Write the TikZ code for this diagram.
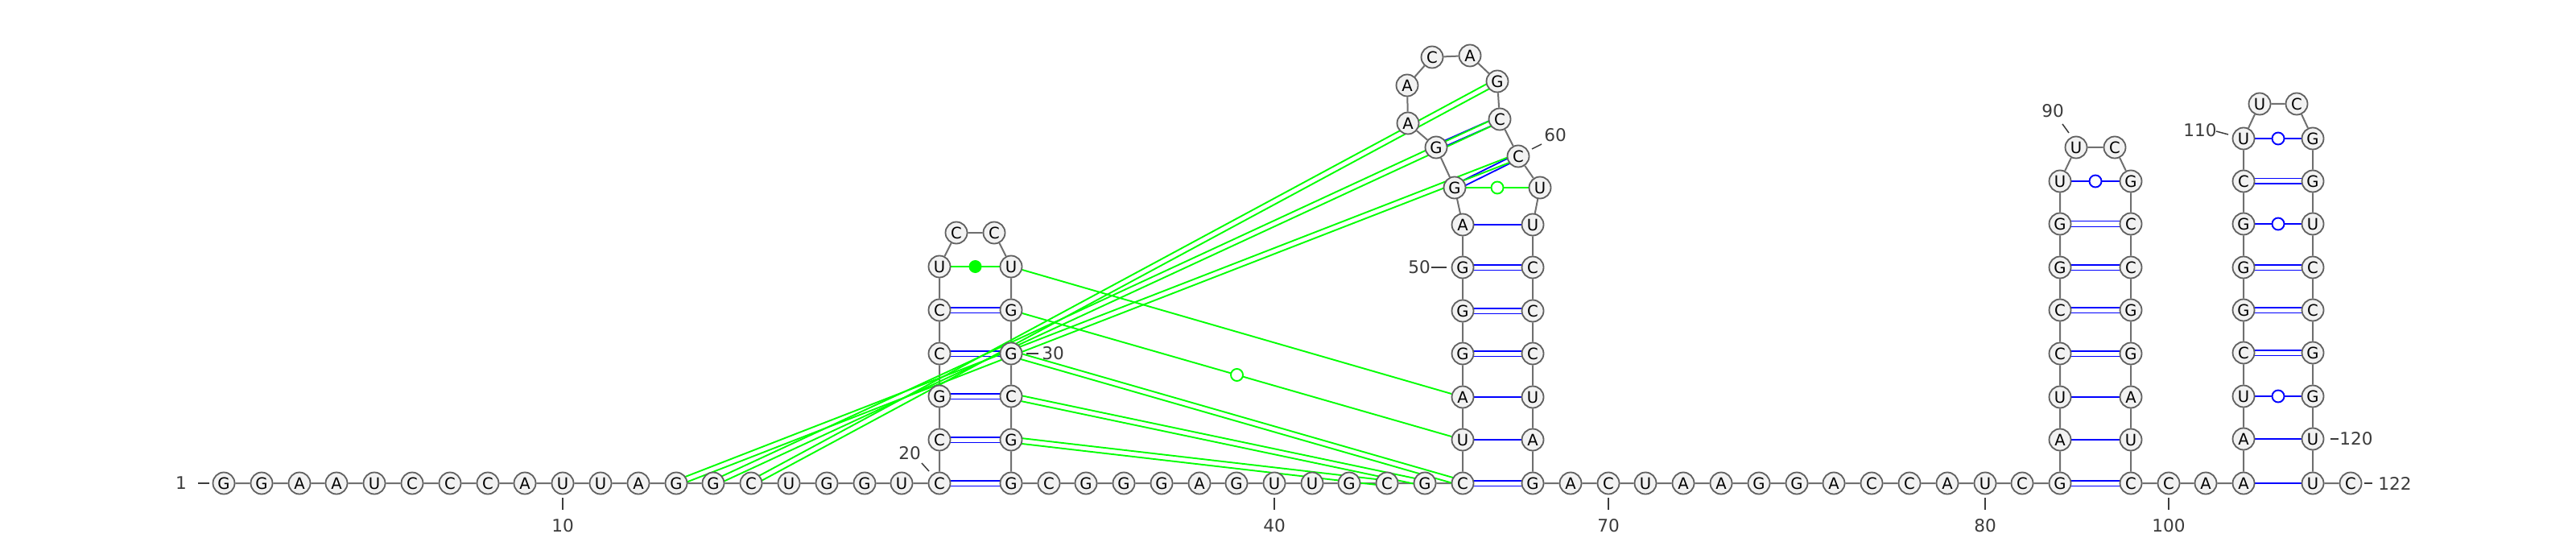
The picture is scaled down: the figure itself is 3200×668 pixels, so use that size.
\documentclass[tikz,border=0pt]{standalone}
\usepackage{fontspec}
\setmainfont{DejaVu Sans}
\usepackage{tikz}
\usetikzlibrary{calc, backgrounds}

\definecolor{ntfill}{RGB}{242,242,242}
\definecolor{ntdraw}{RGB}{96,96,96}
\definecolor{bbone}{RGB}{112,112,112}
\definecolor{numtxt}{RGB}{60,60,60}
\definecolor{pairblue}{RGB}{0,0,255}
\definecolor{pairgreen}{RGB}{0,255,0}

% two parallel strokes between the centres of two bases
\newcommand{\dbl}[3]{%
  \draw[#1] ($(#2.center)!1.7pt!90:(#3.center)$) -- ($(#3.center)!1.7pt!-90:(#2.center)$);
  \draw[#1] ($(#2.center)!1.7pt!-90:(#3.center)$) -- ($(#3.center)!1.7pt!90:(#2.center)$);}

\begin{document}
\begin{tikzpicture}[x=0.5pt, y=-0.5pt,
        nt/.style={circle, draw=ntdraw, fill=ntfill, line width=0.9pt, minimum size=13.5pt, inner sep=0pt, font=\fontsize{9.8}{9.8}\selectfont},
        bb/.style={draw=bbone, line width=1pt},
        bp/.style={draw=pairblue, line width=0.9pt},
        gp/.style={draw=pairgreen, line width=0.95pt},
        bwob/.style={circle, draw=pairblue, fill=white, line width=0.95pt, minimum size=7.5pt, inner sep=0pt},
        gwob/.style={circle, draw=pairgreen, fill=white, line width=0.95pt, minimum size=7.5pt, inner sep=0pt},
        gdot/.style={circle, fill=pairgreen, minimum size=8pt, inner sep=0pt},
        num/.style={text=numtxt, font=\fontsize{10.8}{10.8}\selectfont, inner sep=0pt},
        tick/.style={draw=numtxt, line width=0.75pt},
    ]
    \useasboundingbox (0,0) rectangle (3200,668);

    % 5' strand
    \node[nt] (n1) at (278,600) {G}; \node[nt] (n2) at (325,600) {G}; \node[nt] (n3) at (372,600) {A};
    \node[nt] (n4) at (418,600) {A}; \node[nt] (n5) at (465,600) {U}; \node[nt] (n6) at (512,600) {C};
    \node[nt] (n7) at (559,600) {C}; \node[nt] (n8) at (606,600) {C}; \node[nt] (n9) at (652,600) {A};
    \node[nt] (n10) at (699,600) {U}; \node[nt] (n11) at (746,600) {U}; \node[nt] (n12) at (793,600) {A};
    \node[nt] (n13) at (840,600) {G}; \node[nt] (n14) at (886,600) {G}; \node[nt] (n15) at (933,600) {C};
    \node[nt] (n16) at (980,600) {U}; \node[nt] (n17) at (1027,600) {G}; \node[nt] (n18) at (1074,600) {G};
    \node[nt] (n19) at (1120,600) {U};

    % Hairpin 1
    \node[nt] (n20) at (1167,600) {C}; \node[nt] (n21) at (1167,546) {C}; \node[nt] (n22) at (1167,492) {G};
    \node[nt] (n23) at (1167,439) {C}; \node[nt] (n24) at (1167,385) {C}; \node[nt] (n25) at (1167,331) {U};
    \node[nt] (n26) at (1188,289) {C}; \node[nt] (n27) at (1235,289) {C};
    \node[nt] (n28) at (1256,331) {U}; \node[nt] (n29) at (1256,385) {G}; \node[nt] (n30) at (1256,439) {G};
    \node[nt] (n31) at (1256,492) {C}; \node[nt] (n32) at (1256,546) {G}; \node[nt] (n33) at (1256,600) {G};

    % Linker
    \node[nt] (n34) at (1303,600) {C}; \node[nt] (n35) at (1349,600) {G}; \node[nt] (n36) at (1396,600) {G};
    \node[nt] (n37) at (1443,600) {G}; \node[nt] (n38) at (1490,600) {A}; \node[nt] (n39) at (1536,600) {G};
    \node[nt] (n40) at (1583,600) {U}; \node[nt] (n41) at (1630,600) {U}; \node[nt] (n42) at (1676,600) {G};
    \node[nt] (n43) at (1723,600) {C}; \node[nt] (n44) at (1770,600) {G};

    % Hairpin 2
    \node[nt] (n45) at (1817,600) {C}; \node[nt] (n46) at (1817,546) {U}; \node[nt] (n47) at (1817,493) {A};
    \node[nt] (n48) at (1817,439) {G}; \node[nt] (n49) at (1817,386) {G}; \node[nt] (n50) at (1817,332) {G};
    \node[nt] (n51) at (1817,279) {A}; \node[nt] (n52) at (1807,233) {G}; \node[nt] (n53) at (1784,183) {G};
    \node[nt] (n54) at (1749,153) {A}; \node[nt] (n55) at (1748,106) {A}; \node[nt] (n56) at (1779,71) {C};
    \node[nt] (n57) at (1826,69) {A}; \node[nt] (n58) at (1860,101) {G}; \node[nt] (n59) at (1863,148) {C};
    \node[nt] (n60) at (1886,194) {C}; \node[nt] (n61) at (1913,233) {U}; \node[nt] (n62) at (1904,279) {U};
    \node[nt] (n63) at (1904,332) {C}; \node[nt] (n64) at (1904,386) {C}; \node[nt] (n65) at (1904,439) {C};
    \node[nt] (n66) at (1904,493) {U}; \node[nt] (n67) at (1904,546) {A}; \node[nt] (n68) at (1904,600) {G};

    % Linker
    \node[nt] (n69) at (1951,600) {A}; \node[nt] (n70) at (1998,600) {C}; \node[nt] (n71) at (2044,600) {U};
    \node[nt] (n72) at (2091,600) {A}; \node[nt] (n73) at (2138,600) {A}; \node[nt] (n74) at (2185,600) {G};
    \node[nt] (n75) at (2232,600) {G}; \node[nt] (n76) at (2278,600) {A}; \node[nt] (n77) at (2325,600) {C};
    \node[nt] (n78) at (2372,600) {C}; \node[nt] (n79) at (2419,600) {A}; \node[nt] (n80) at (2466,600) {U};
    \node[nt] (n81) at (2512,600) {C};

    % Hairpin 3
    \node[nt] (n82) at (2559,600) {G}; \node[nt] (n83) at (2559,546) {A}; \node[nt] (n84) at (2559,493) {U};
    \node[nt] (n85) at (2559,439) {C}; \node[nt] (n86) at (2559,385) {C}; \node[nt] (n87) at (2559,332) {G};
    \node[nt] (n88) at (2559,278) {G}; \node[nt] (n89) at (2559,225) {U};
    \node[nt] (n90) at (2579,183) {U}; \node[nt] (n91) at (2627,183) {C};
    \node[nt] (n92) at (2647,225) {G}; \node[nt] (n93) at (2647,278) {C}; \node[nt] (n94) at (2647,332) {C};
    \node[nt] (n95) at (2647,385) {G}; \node[nt] (n96) at (2647,439) {G}; \node[nt] (n97) at (2647,493) {A};
    \node[nt] (n98) at (2647,546) {U}; \node[nt] (n99) at (2647,600) {C};
    \node[nt] (n100) at (2694,600) {C}; \node[nt] (n101) at (2740,600) {A};

    % Hairpin 4
    \node[nt] (n102) at (2787,600) {A}; \node[nt] (n103) at (2787,545) {A}; \node[nt] (n104) at (2787,492) {U};
    \node[nt] (n105) at (2787,438) {C}; \node[nt] (n106) at (2787,385) {G}; \node[nt] (n107) at (2787,332) {G};
    \node[nt] (n108) at (2787,278) {G}; \node[nt] (n109) at (2787,225) {C}; \node[nt] (n110) at (2787,172) {U};
    \node[nt] (n111) at (2807,129) {U}; \node[nt] (n112) at (2853,129) {C};
    \node[nt] (n113) at (2873,172) {G}; \node[nt] (n114) at (2873,225) {G}; \node[nt] (n115) at (2873,278) {U};
    \node[nt] (n116) at (2873,332) {C}; \node[nt] (n117) at (2873,385) {C}; \node[nt] (n118) at (2873,438) {G};
    \node[nt] (n119) at (2873,492) {G}; \node[nt] (n120) at (2873,545) {U}; \node[nt] (n121) at (2873,600) {U};
    \node[nt] (n122) at (2920,600) {C};

    \begin{pgfonlayer}{background}
        \fill[white] (0,0) rectangle (3200,668);
        % backbone
        \draw[bb] (n1) -- (n2) -- (n3) -- (n4) -- (n5) -- (n6) -- (n7) -- (n8) -- (n9) -- (n10)
            -- (n11) -- (n12) -- (n13) -- (n14) -- (n15) -- (n16) -- (n17) -- (n18) -- (n19) -- (n20)
            -- (n21) -- (n22) -- (n23) -- (n24) -- (n25) -- (n26) -- (n27) -- (n28) -- (n29) -- (n30)
            -- (n31) -- (n32) -- (n33) -- (n34) -- (n35) -- (n36) -- (n37) -- (n38) -- (n39) -- (n40)
            -- (n41) -- (n42) -- (n43) -- (n44) -- (n45) -- (n46) -- (n47) -- (n48) -- (n49) -- (n50)
            -- (n51) -- (n52) -- (n53) -- (n54) -- (n55) -- (n56) -- (n57) -- (n58) -- (n59) -- (n60)
            -- (n61) -- (n62) -- (n63) -- (n64) -- (n65) -- (n66) -- (n67) -- (n68) -- (n69) -- (n70)
            -- (n71) -- (n72) -- (n73) -- (n74) -- (n75) -- (n76) -- (n77) -- (n78) -- (n79) -- (n80)
            -- (n81) -- (n82) -- (n83) -- (n84) -- (n85) -- (n86) -- (n87) -- (n88) -- (n89) -- (n90)
            -- (n91) -- (n92) -- (n93) -- (n94) -- (n95) -- (n96) -- (n97) -- (n98) -- (n99) -- (n100)
            -- (n101) -- (n102) -- (n103) -- (n104) -- (n105) -- (n106) -- (n107) -- (n108) -- (n109) -- (n110)
            -- (n111) -- (n112) -- (n113) -- (n114) -- (n115) -- (n116) -- (n117) -- (n118) -- (n119) -- (n120)
            -- (n121) -- (n122);

        % stem pairs
        \dbl{bp}{n20}{n33} \dbl{bp}{n21}{n32} \dbl{bp}{n22}{n31} \dbl{bp}{n23}{n30} \dbl{bp}{n24}{n29}
        \dbl{bp}{n45}{n68} \dbl{bp}{n48}{n65} \dbl{bp}{n49}{n64} \dbl{bp}{n50}{n63}
        \dbl{bp}{n52}{n60} \dbl{bp}{n53}{n59}
        \draw[bp] (n46) -- (n67); \draw[bp] (n47) -- (n66); \draw[bp] (n51) -- (n62);
        \dbl{bp}{n82}{n99} \dbl{bp}{n85}{n96} \dbl{bp}{n86}{n95} \dbl{bp}{n87}{n94} \dbl{bp}{n88}{n93}
        \draw[bp] (n83) -- (n98); \draw[bp] (n84) -- (n97);
        \draw[bp] (n89) -- node[bwob] (w89) {} (n92);
        \dbl{bp}{n105}{n118} \dbl{bp}{n106}{n117} \dbl{bp}{n107}{n116} \dbl{bp}{n109}{n114}
        \draw[bp] (n102) -- (n121); \draw[bp] (n103) -- (n120);
        \draw[bp] (n104) -- node[bwob] (w104) {} (n119);
        \draw[bp] (n108) -- node[bwob] (w108) {} (n115);
        \draw[bp] (n110) -- node[bwob] (w110) {} (n113);

        % tertiary pairs
        \draw[gp] (n25) -- node[gdot] (d25) {} (n28);
        \draw[gp] (n52) -- node[gwob] (w52) {} (n61);
        \dbl{gp}{n13}{n60} \dbl{gp}{n14}{n59} \dbl{gp}{n15}{n58}
        \dbl{gp}{n30}{n45} \dbl{gp}{n31}{n44} \dbl{gp}{n32}{n43}
        \draw[gp] (n28) -- (n47);
        \draw[gp] (n29) -- node[gwob] (w29) {} (n46);
    \end{pgfonlayer}

    % numbering
    \node[num] (l1) at (225,600) {1};     \draw[tick] ($(n1)+(-18,0)$) -- ++(-14,0);
    \node[num] (l10) at (699,653) {10};   \draw[tick] ($(n10)+(0,18)$) -- ++(0,15);
    \node[num] (l20) at (1130,563) {20};  \draw[tick] ($(n20)+(-13,-15)$) -- ++(-9,-10);
    \node[num] (l30) at (1308,439) {30};  \draw[tick] ($(n30)+(19,0)$) -- ++(15,0);
    \node[num] (l40) at (1583,653) {40};  \draw[tick] ($(n40)+(0,18)$) -- ++(0,15);
    \node[num] (l50) at (1763,332) {50};  \draw[tick] ($(n50)+(-20,0)$) -- ++(-19,0);
    \node[num] (l60) at (1932,168) {60};  \draw[tick] ($(n60)+(17,-9)$) -- ++(12,-6);
    \node[num] (l70) at (1998,653) {70};  \draw[tick] ($(n70)+(0,18)$) -- ++(0,15);
    \node[num] (l80) at (2466,653) {80};  \draw[tick] ($(n80)+(0,18)$) -- ++(0,15);
    \node[num] (l90) at (2550,138) {90};  \draw[tick] ($(n90)+(-9,-18)$) -- ++(-8,-11);
    \node[num] (l100) at (2694,653) {100}; \draw[tick] ($(n100)+(0,18)$) -- ++(0,15);
    \node[num] (l110) at (2733,162) {110}; \draw[tick] ($(n110)+(-19,-5)$) -- ++(-15,-4);
    \node[num] (l120) at (2927,545) {120}; \draw[tick] ($(n120)+(22,0)$) -- ++(10,0);
    \node[num] (l122) at (2975,600) {122}; \draw[tick] ($(n122)+(17,0)$) -- ++(10,0);
\end{tikzpicture}
\end{document}
